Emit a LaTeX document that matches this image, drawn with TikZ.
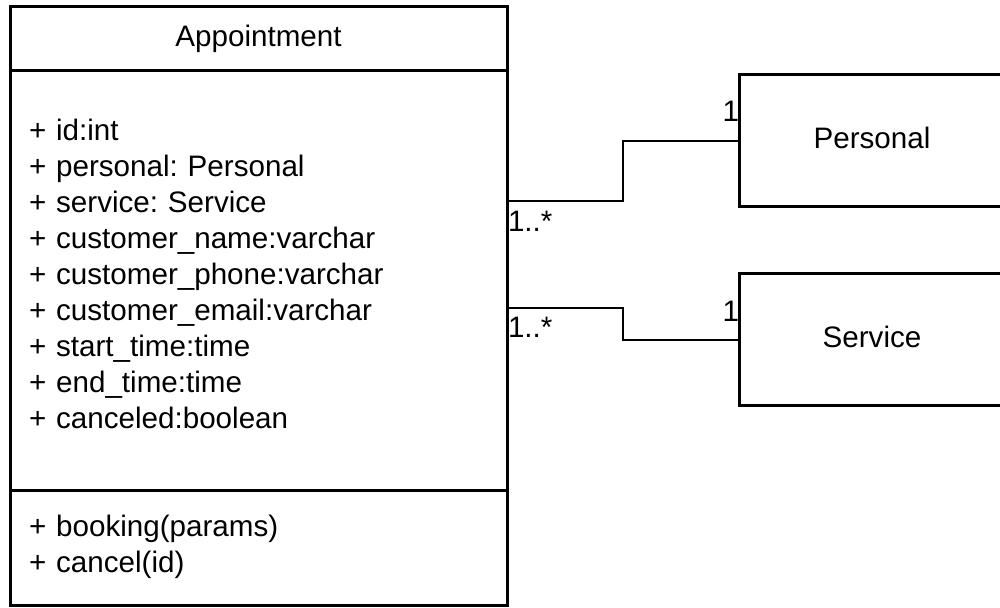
\documentclass[tikz,border=0pt]{standalone}
\usepackage{fontspec}
\setmainfont{Liberation Sans}
\usetikzlibrary{positioning}
\frenchspacing

\begin{document}
\begin{tikzpicture}[x=0.5pt,y=-0.5pt,
    every node/.style={font=\fontsize{14.8pt}{18pt}\selectfont, outer sep=0pt},
    classbox/.style={draw, line width=1.5pt, minimum width=248.5pt, inner sep=0pt},
    members/.style={classbox, text width=229.5pt, inner xsep=9.5pt, align=left},
    entity/.style={draw, line width=1.5pt, minimum width=133pt, minimum height=66pt, inner sep=0pt},
    assoc/.style={line width=1.3pt},
    mult/.style={inner sep=0pt}]
  \useasboundingbox (0,0) rectangle (1000,608);
  % class Appointment
  \node[classbox, minimum height=32pt] (appt) at (258.5,39) {\strut Appointment};
  \node[members, minimum height=209.5pt, below=0pt of appt] (attrs) {\strut + id:int\\
    + personal: Personal\\
    + service: Service\\
    + customer\_name:varchar\\
    + customer\_phone:varchar\\
    + customer\_email:varchar\\
    + start\_time:time\\
    + end\_time:time\\
    + canceled:boolean\rule[-8.1pt]{0pt}{0pt}};
  \node[members, minimum height=57.5pt, below=0pt of attrs] (ops) {\strut + booking(params)\\
    + cancel(id)\strut};
  % other classes
  \node[entity] (personal) at (872,141) {\strut Personal};
  \node[entity] (service) at (872,340) {\strut Service};
  % associations
  \coordinate (toper) at (attrs.east |- 0,201);
  \coordinate (toserv) at (attrs.east |- 0,308);
  \draw[assoc] (toper) -- ++(116,0) |- (personal.west);
  \draw[assoc] (toserv) -- ++(116,0) |- (service.west);
  \node[mult, anchor=base west] (m1) at ([shift={(1,31)}]toper) {1..*};
  \node[mult, anchor=base west] (m2) at ([shift={(1,30)}]toserv) {1..*};
  \node[mult, anchor=base east] (m3) at ([shift={(0,-19)}]personal.west) {1};
  \node[mult, anchor=base east] (m4) at ([shift={(0,-18)}]service.west) {1};
\end{tikzpicture}
\end{document}
